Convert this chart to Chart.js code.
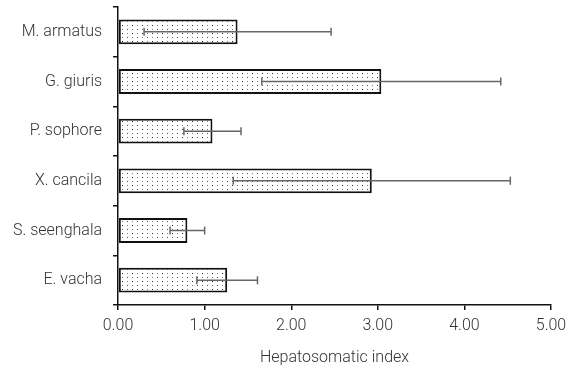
<!DOCTYPE html>
<html>
<head>
<meta charset="utf-8">
<script src="https://cdn.jsdelivr.net/npm/chart.js@4"></script>
<style>
  html, body { margin: 0; padding: 0; background: #fff; }
  #wrap { width: 568px; height: 369px; position: relative; }
</style>
</head>
<body>
<div id="wrap"><canvas id="hsiChart"></canvas></div>
<script>
const species = ["M. armatus", "G. giuris", "P. sophore", "X. cancila", "S. seenghala", "E. vacha"];
const hsiMean = [1.38, 3.04, 1.09, 2.93, 0.80, 1.26];
const hsiSd = [1.08, 1.38, 0.33, 1.60, 0.20, 0.35];
const xTicks = [0, 1, 2, 3, 4, 5];

// small dot fill like the original hatch
function makeDots() {
  const c = document.createElement("canvas");
  c.width = 10;
  c.height = 8;
  const g = c.getContext("2d");
  g.fillStyle = "#fff";
  g.fillRect(0, 0, 10, 8);
  g.fillStyle = "#222";
  g.fillRect(2, 1, 1, 1);
  g.fillStyle = "#777";
  g.fillRect(7, 1, 1, 1);
  g.fillRect(2, 5, 1, 1);
  g.fillStyle = "#444";
  g.fillRect(7, 5, 1, 1);
  return g.createPattern(c, "repeat");
}

const errorBars = {
  id: "errorBars",
  afterDatasetsDraw(chart) {
    const ctx = chart.ctx;
    const x = chart.scales.x;
    const meta = chart.getDatasetMeta(0);
    ctx.save();
    ctx.strokeStyle = "#666";
    ctx.lineWidth = 1.5;
    meta.data.forEach((bar, i) => {
      const lo = x.getPixelForValue(hsiMean[i] - hsiSd[i]);
      const hi = x.getPixelForValue(hsiMean[i] + hsiSd[i]);
      const y = bar.y;
      ctx.beginPath();
      ctx.moveTo(lo, y);
      ctx.lineTo(hi, y);
      ctx.moveTo(lo, y - 4);
      ctx.lineTo(lo, y + 4);
      ctx.moveTo(hi, y - 4);
      ctx.lineTo(hi, y + 4);
      ctx.stroke();
    });
    ctx.restore();
  }
};

Chart.defaults.font.family = "Roboto";
Chart.defaults.font.weight = "300";
Chart.defaults.color = "#333";

new Chart(document.getElementById("hsiChart"), {
  type: "bar",
  data: {
    labels: species,
    datasets: [{
      data: hsiMean,
      backgroundColor: makeDots(),
      borderColor: "#111",
      borderWidth: 2,
      borderSkipped: false,
      categoryPercentage: 1,
      barPercentage: 0.5
    }]
  },
  options: {
    indexAxis: "y",
    responsive: true,
    maintainAspectRatio: false,
    animation: false,
    layout: { padding: { top: 7, right: 17, left: 2, bottom: 0 } },
    plugins: {
      legend: { display: false },
      tooltip: { enabled: false }
    },
    scales: {
      x: {
        min: 0,
        max: 5,
        afterBuildTicks: axis => {
          axis.ticks = xTicks.map(v => ({ value: v }));
        },
        afterFit: scale => {
          scale.height = 64;
          scale.paddingLeft = 0;
          scale.paddingRight = 0;
        },
        ticks: {
          font: { size: 16 },
          padding: 6,
          callback: v => Number(v).toFixed(2)
        },
        grid: {
          drawOnChartArea: false,
          drawTicks: true,
          tickLength: 5,
          color: "#111",
          lineWidth: 1.5
        },
        border: { color: "#111", width: 1.5 },
        title: {
          display: true,
          text: "Hepatosomatic index",
          font: { size: 16 },
          padding: { top: 8, bottom: 1 }
        }
      },
      y: {
        // labels sit inside their bands, no need for the extra top room
        afterFit: scale => {
          scale.paddingTop = 0;
          scale.paddingBottom = 0;
        },
        ticks: {
          font: { size: 16 },
          padding: 11
        },
        grid: {
          offset: true,
          drawOnChartArea: false,
          drawTicks: true,
          tickLength: 5,
          color: "#111",
          lineWidth: 1.5
        },
        border: { color: "#111", width: 1.5 }
      }
    }
  },
  plugins: [errorBars]
});
</script>
</body>
</html>
